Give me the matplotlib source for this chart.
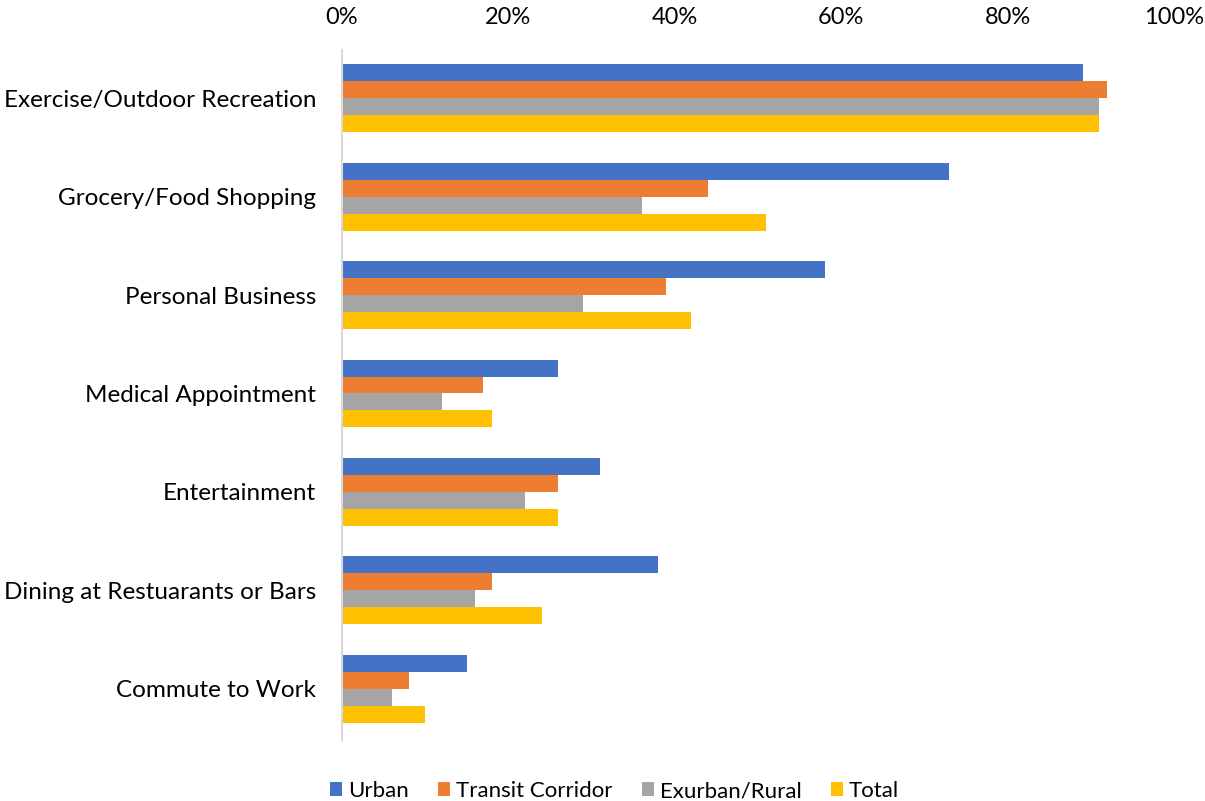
import matplotlib
matplotlib.use("Agg")
import matplotlib.pyplot as plt
import numpy as np
from matplotlib.ticker import PercentFormatter

plt.rcParams['font.family'] = ['Lato', 'DejaVu Sans']

categories = ["Exercise/Outdoor Recreation", "Grocery/Food Shopping", "Personal Business",
              "Medical Appointment", "Entertainment", "Dining at Restuarants or Bars",
              "Commute to Work"]
urban = [89, 73, 58, 26, 31, 38, 15]
transit = [92, 44, 39, 17, 26, 18, 8]
exurban = [91, 36, 29, 12, 22, 16, 6]
total = [91, 51, 42, 18, 26, 24, 10]

series = [("Urban", urban, "#4472C4"),
          ("Transit Corridor", transit, "#ED7D31"),
          ("Exurban/Rural", exurban, "#A5A5A5"),
          ("Total", total, "#FFC000")]

fig = plt.figure(figsize=(12.05, 8.01), dpi=100)
ax = fig.add_axes([0.2838, 0.0762, 0.6905, 0.8614])

y = np.arange(len(categories))
bh = 0.1726
for i, (name, vals, col) in enumerate(series):
    ax.barh(y + (i - 1.5) * bh, vals, height=bh, color=col, label=name)

ax.set_xlim(0, 100)
ax.set_ylim(6.52, -0.49)
ax.xaxis.set_major_formatter(PercentFormatter(decimals=0))
ax.set_xticks(range(0, 101, 20))
ax.xaxis.tick_top()
ax.set_yticks(y)
ax.set_yticklabels(categories)
ax.tick_params(axis='both', length=0, colors='#000000')
ax.tick_params(axis='x', pad=16, labelsize=17)
ax.tick_params(axis='y', pad=18.5, labelsize=17.5)
for s in ['top', 'right', 'bottom']:
    ax.spines[s].set_visible(False)
ax.spines['left'].set_color('#D9D9D9')
ax.spines['left'].set_linewidth(1.5)

fig.legend(loc='lower center', bbox_to_anchor=(0.51, -0.025), ncol=4, frameon=False,
           fontsize=16, handlelength=0.55, handleheight=0.55, handletextpad=0.27,
           columnspacing=1.3)

fig.savefig("out.png", dpi=100)
